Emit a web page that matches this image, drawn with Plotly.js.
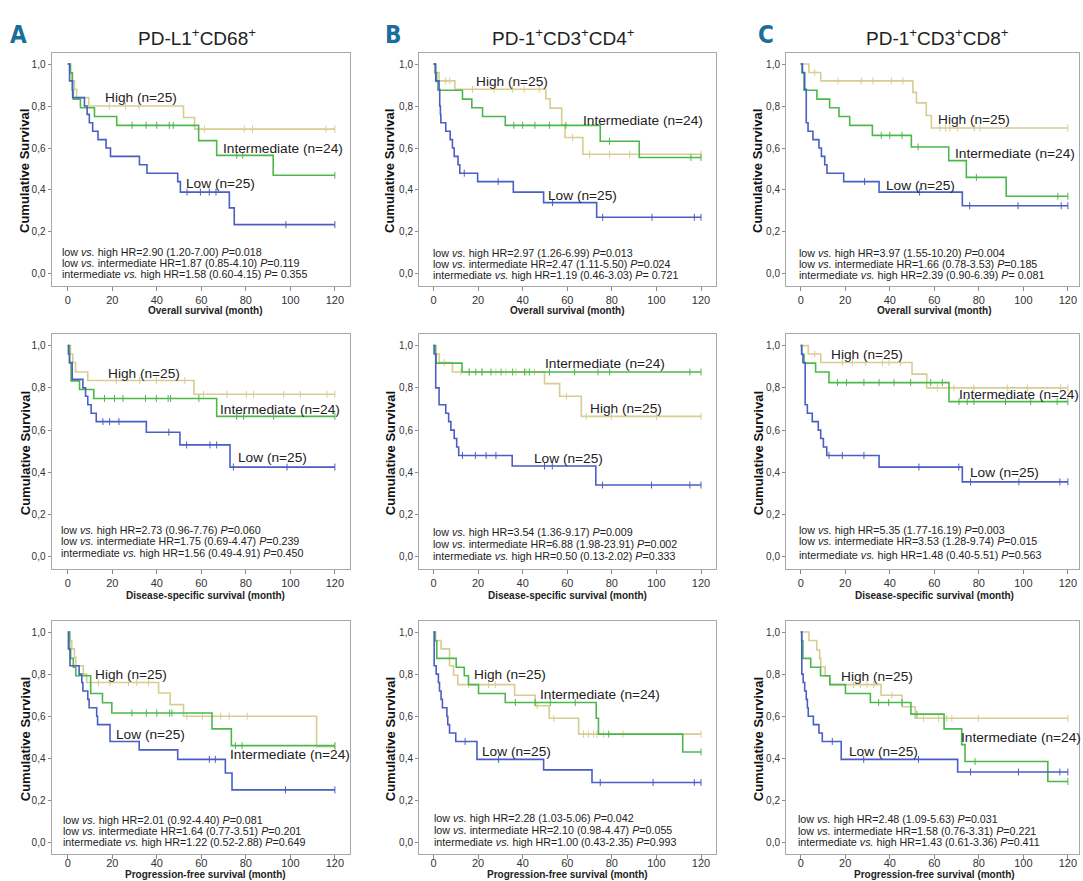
<!DOCTYPE html>
<html><head><meta charset="utf-8">
<script src="https://cdn.plot.ly/plotly-3.0.1.min.js"></script>
<style>html,body{margin:0;padding:0;background:#fff}#chart{width:1083px;height:881px}</style>
</head><body><div id="chart"></div>
<script>
// ---------- DATA ----------
const xTicks = [0, 20, 40, 60, 80, 100, 120];
const yTicks = [0, 0.2, 0.4, 0.6, 0.8, 1.0];
const yTickText = ['0,0', '0,2', '0,4', '0,6', '0,8', '1,0'];
const groupNames = ['High (n=25)', 'Intermediate (n=24)', 'Low (n=25)'];
const markerTitles = ['PD-L1<sup>+</sup>CD68<sup>+</sup>', 'PD-1<sup>+</sup>CD3<sup>+</sup>CD4<sup>+</sup>', 'PD-1<sup>+</sup>CD3<sup>+</sup>CD8<sup>+</sup>'];
const panelLetters = ['A', 'B', 'C'];
const survivalTypes = ['Overall survival (month)', 'Disease-specific survival (month)', 'Progression-free survival (month)'];

// Row 1: overall survival
const A1_high_t = [0, 1.2, 2.2, 3, 4, 9.4, 52, 57, 120];
const A1_high_s = [1, 0.96, 0.92, 0.88, 0.84, 0.80, 0.745, 0.69, 0.69];
const A1_high_c = [18.7, 26, 32, 61.4, 79.3, 83, 116, 120];
const A1_int_t = [0, 1.2, 2, 2.5, 5.7, 12, 22, 58.8, 66.9, 92.3, 120];
const A1_int_s = [1, 0.958, 0.875, 0.833, 0.792, 0.75, 0.708, 0.635, 0.565, 0.47, 0.47];
const A1_int_c = [28.9, 35.2, 40, 45.6, 47.4, 75.9, 78.6, 120];
const A1_low_t = [0, 0.8, 2.2, 7.5, 8.7, 9.7, 11.2, 13.6, 17.2, 19.2, 32.2, 35.6, 49.4, 50.6, 72.6, 74.8, 120];
const A1_low_s = [1, 0.92, 0.84, 0.80, 0.76, 0.72, 0.68, 0.64, 0.60, 0.56, 0.52, 0.48, 0.44, 0.39, 0.315, 0.235, 0.235];
const A1_low_c = [53.6, 59.6, 63.6, 66.6, 98, 120];

const B1_high_t = [0, 0.7, 2.5, 9.6, 50.4, 52.3, 57.5, 59, 67, 120];
const B1_high_s = [1, 0.96, 0.92, 0.88, 0.835, 0.79, 0.71, 0.65, 0.57, 0.57];
const B1_high_c = [5.5, 7.3, 17.5, 27.2, 35.5, 40.7, 47.4, 62.4, 70, 79, 88, 120];
const B1_int_t = [0, 0.7, 1.4, 2, 13, 17.2, 22, 32.2, 74.8, 92.3, 120];
const B1_int_s = [1, 0.958, 0.917, 0.875, 0.833, 0.792, 0.75, 0.708, 0.632, 0.555, 0.555];
const B1_int_c = [36, 40, 45.5, 52, 59.4, 78.9, 115.5, 120];
const B1_low_t = [0, 1, 2.5, 2.8, 3.1, 3.3, 5.5, 7.5, 8.5, 9.3, 11, 11.8, 19.8, 35.8, 49.4, 73.2, 120];
const B1_low_s = [1, 0.92, 0.88, 0.80, 0.76, 0.72, 0.68, 0.64, 0.60, 0.56, 0.52, 0.48, 0.44, 0.39, 0.34, 0.27, 0.27];
const B1_low_c = [13.8, 29, 53.4, 75.9, 98, 117, 120];

const C1_high_t = [0, 3.7, 9, 50.4, 52, 56.4, 58.7, 120];
const C1_high_s = [1, 0.96, 0.92, 0.865, 0.815, 0.755, 0.695, 0.695];
const C1_high_c = [6.3, 16.8, 27.2, 32.5, 40.7, 45.9, 62.5, 65, 67, 70.5, 78, 80.5, 120];
const C1_int_t = [0, 0.6, 1.5, 7.3, 13, 17.2, 22, 32.2, 49.7, 66.5, 74.4, 92.3, 120];
const C1_int_s = [1, 0.958, 0.875, 0.833, 0.792, 0.75, 0.708, 0.66, 0.605, 0.54, 0.46, 0.37, 0.37];
const C1_int_c = [36.2, 40, 45.5, 52.7, 78.9, 115.5, 120];
const C1_low_t = [0, 0.8, 1.8, 2.5, 3.3, 5.5, 8.2, 9.3, 10.8, 11.8, 19.3, 35.2, 72.6, 120];
const C1_low_s = [1, 0.96, 0.88, 0.72, 0.68, 0.64, 0.60, 0.56, 0.52, 0.48, 0.44, 0.39, 0.325, 0.325];
const C1_low_c = [28.7, 53.4, 75.9, 97.6, 117, 120];

// Row 2: disease-specific survival
const A2_high_t = [0, 1.2, 2.3, 3.5, 9, 56.7, 120];
const A2_high_s = [1, 0.96, 0.92, 0.875, 0.835, 0.77, 0.77];
const A2_high_c = [21.8, 32.3, 39.8, 52.6, 61, 71.5, 80.2, 83.5, 97, 104.5, 116.5, 120];
const A2_int_t = [0, 0.8, 1.5, 5.3, 11.7, 66.9, 120];
const A2_int_s = [1, 0.917, 0.833, 0.792, 0.75, 0.665, 0.665];
const A2_int_c = [16.5, 21, 24.8, 34.9, 39.8, 45.1, 46.2, 58.9, 75.9, 79, 92.5, 120];
const A2_low_t = [0, 0.3, 0.8, 2, 6.8, 8, 9, 10.5, 12.8, 35.3, 50.4, 72.9, 120];
const A2_low_s = [1, 0.96, 0.92, 0.84, 0.80, 0.76, 0.72, 0.68, 0.64, 0.59, 0.53, 0.425, 0.425];
const A2_low_c = [15.8, 18.8, 23, 45.4, 53.4, 63.9, 66.9, 74.4, 98.5, 120];

const B2_high_t = [0, 1, 2.6, 8.5, 49.8, 56.6, 66.3, 120];
const B2_high_s = [1, 0.96, 0.92, 0.875, 0.82, 0.76, 0.665, 0.665];
const B2_high_c = [4.8, 12.3, 16, 22, 28, 32.5, 37, 41.5, 45.3, 59.6, 68.5, 79.8, 100, 120];
const B2_int_t = [0, 0.9, 1.2, 12.8, 120];
const B2_int_s = [1, 0.958, 0.917, 0.875, 0.875];
const B2_int_c = [16, 19, 21.7, 25.8, 30.3, 35.5, 40.8, 43, 52, 63.3, 73.8, 79, 115, 120];
const B2_low_t = [0, 0.3, 1, 2.5, 5.5, 6.8, 7.8, 9.3, 10.4, 11.3, 35.3, 72.8, 120];
const B2_low_s = [1, 0.96, 0.80, 0.72, 0.68, 0.64, 0.60, 0.56, 0.52, 0.48, 0.43, 0.34, 0.34];
const B2_low_c = [13, 18.8, 23.6, 28, 49.8, 53.3, 75.8, 97.8, 115, 120];

const C2_high_t = [0, 3.4, 9, 50, 56.6, 120];
const C2_high_s = [1, 0.96, 0.92, 0.865, 0.80, 0.80];
const C2_high_c = [6.3, 18.7, 23.2, 29.2, 36.7, 39.7, 44.9, 61.4, 68.8, 77.8, 92.8, 101.8, 116.8, 120];
const C2_int_t = [0, 0.5, 1.5, 6.7, 12.7, 66.6, 120];
const C2_int_s = [1, 0.958, 0.917, 0.875, 0.825, 0.735, 0.735];
const C2_int_c = [16.5, 20.6, 28.4, 35.2, 41.9, 49.4, 58.4, 63.6, 71.1, 74.8, 77.8, 92, 103.3, 115.2, 120];
const C2_low_t = [0, 0.4, 1, 2, 3, 5.2, 7.9, 9, 10.2, 11.7, 35.2, 72.6, 120];
const C2_low_s = [1, 0.96, 0.92, 0.72, 0.68, 0.64, 0.60, 0.56, 0.52, 0.48, 0.425, 0.355, 0.355];
const C2_low_c = [12.7, 18.7, 28.4, 53.1, 71, 76.3, 98, 116.4, 120];

// Row 3: progression-free survival
const A3_high_t = [0, 1, 1.8, 3, 3.6, 7, 8.5, 40.8, 46, 52, 111.8, 120];
const A3_high_s = [1, 0.96, 0.92, 0.88, 0.84, 0.80, 0.76, 0.71, 0.655, 0.60, 0.455, 0.455];
const A3_high_c = [13.8, 19, 27.3, 31, 36.3, 53.5, 60.5, 68.7, 72.5, 80.6, 120];
const A3_int_t = [0, 0.8, 1.3, 2.5, 3.6, 10.3, 15.6, 19.8, 64.8, 73.5, 120];
const A3_int_s = [1, 0.917, 0.875, 0.833, 0.792, 0.708, 0.664, 0.615, 0.54, 0.46, 0.46];
const A3_int_c = [28.8, 35.3, 40, 45.8, 46.8, 75.3, 78.3, 120];
const A3_low_t = [0, 0.3, 1, 5.1, 6.3, 6.8, 9, 9.6, 13, 13.4, 19, 32.1, 49.4, 70.8, 73.8, 120];
const A3_low_s = [1, 0.92, 0.84, 0.80, 0.76, 0.72, 0.68, 0.64, 0.60, 0.56, 0.48, 0.44, 0.395, 0.33, 0.25, 0.25];
const A3_low_c = [63.6, 66.3, 97.8, 120];

const B3_high_t = [0, 1, 3.4, 7.2, 9, 10.9, 36.4, 45.6, 51.9, 65.1, 120];
const B3_high_s = [1, 0.96, 0.92, 0.84, 0.795, 0.75, 0.70, 0.65, 0.59, 0.515, 0.515];
const B3_high_c = [15.7, 24.7, 27.7, 46.5, 54, 67.3, 69.5, 71.8, 73.3, 76.3, 85, 120];
const B3_int_t = [0, 0.7, 1.5, 10.2, 13.8, 15.7, 20.2, 32.2, 73, 74, 111.8, 120];
const B3_int_s = [1, 0.958, 0.875, 0.833, 0.792, 0.75, 0.708, 0.665, 0.59, 0.515, 0.43, 0.43];
const B3_int_c = [36.7, 45.6, 52.4, 63.6, 78.6, 120];
const B3_low_t = [0, 0.3, 1.2, 2.2, 2.7, 3.4, 4, 6, 6.4, 7.2, 10, 19.5, 49.4, 71.1, 120];
const B3_low_s = [1, 0.84, 0.80, 0.76, 0.72, 0.68, 0.64, 0.60, 0.56, 0.52, 0.48, 0.395, 0.345, 0.285, 0.285];
const B3_low_c = [14.2, 29.2, 74.8, 98.5, 117, 120];

const C3_high_t = [0, 3.7, 7.2, 8.5, 9, 11, 13.1, 36.1, 45.5, 51.4, 120];
const C3_high_s = [1, 0.96, 0.915, 0.875, 0.835, 0.79, 0.75, 0.70, 0.645, 0.59, 0.59];
const C3_high_c = [23.8, 26.8, 29.8, 32.8, 41, 55.2, 61.9, 65.6, 67.9, 79.8, 120];
const C3_int_t = [0, 0.4, 1, 4.5, 8.9, 13.1, 20.1, 31.3, 49.5, 64.4, 72.3, 73.8, 111, 120];
const C3_int_s = [1, 0.958, 0.875, 0.833, 0.792, 0.75, 0.708, 0.665, 0.61, 0.54, 0.465, 0.385, 0.29, 0.29];
const C3_int_c = [35, 39.5, 45.5, 52.2, 78.3, 120];
const C3_low_t = [0, 0.5, 1.1, 1.8, 2.5, 3, 3.4, 5.7, 8.2, 9.7, 18.2, 70.5, 120];
const C3_low_s = [1, 0.80, 0.76, 0.72, 0.68, 0.64, 0.60, 0.56, 0.52, 0.48, 0.395, 0.335, 0.335];
const C3_low_c = [14.2, 28.3, 52.9, 76.3, 97.8, 116.4, 120];

// Hazard-ratio texts
const A1_stats = ['low <i>vs.</i> high HR=2.90 (1.20-7.00) <i>P</i>=0.018', 'low <i>vs.</i> intermediate HR=1.87 (0.85-4.10) <i>P</i>=0.119', 'intermediate <i>vs.</i> high HR=1.58 (0.60-4.15) <i>P</i>= 0.355'];
const B1_stats = ['low <i>vs.</i> high HR=2.97 (1.26-6.99) <i>P</i>=0.013', 'low <i>vs.</i> intermediate HR=2.47 (1.11-5.50) <i>P</i>=0.024', 'intermediate <i>vs.</i> high HR=1.19 (0.46-3.03) <i>P</i>= 0.721'];
const C1_stats = ['low <i>vs.</i> high HR=3.97 (1.55-10.20) <i>P</i>=0.004', 'low <i>vs.</i> intermediate HR=1.66 (0.78-3.53) <i>P</i>=0.185', 'intermediate <i>vs.</i> high HR=2.39 (0.90-6.39) <i>P</i>= 0.081'];
const A2_stats = ['low <i>vs.</i> high HR=2.73 (0.96-7.76) <i>P</i>=0.060', 'low <i>vs.</i> intermediate HR=1.75 (0.69-4.47) <i>P</i>=0.239', 'intermediate <i>vs.</i> high HR=1.56 (0.49-4.91) <i>P</i>=0.450'];
const B2_stats = ['low <i>vs.</i> high HR=3.54 (1.36-9.17) <i>P</i>=0.009', 'low <i>vs.</i> intermediate HR=6.88 (1.98-23.91) <i>P</i>=0.002', 'intermediate <i>vs.</i> high HR=0.50 (0.13-2.02) <i>P</i>=0.333'];
const C2_stats = ['low <i>vs.</i> high HR=5.35 (1.77-16.19) <i>P</i>=0.003', 'low <i>vs.</i> intermediate HR=3.53 (1.28-9.74) <i>P</i>=0.015', 'intermediate <i>vs.</i> high HR=1.48 (0.40-5.51) <i>P</i>=0.563'];
const A3_stats = ['low <i>vs.</i> high HR=2.01 (0.92-4.40) <i>P</i>=0.081', 'low <i>vs.</i> intermediate HR=1.64 (0.77-3.51) <i>P</i>=0.201', 'intermediate <i>vs.</i> high HR=1.22 (0.52-2.88) <i>P</i>=0.649'];
const B3_stats = ['low <i>vs.</i> high HR=2.28 (1.03-5.06) <i>P</i>=0.042', 'low <i>vs.</i> intermediate HR=2.10 (0.98-4.47) <i>P</i>=0.055', 'intermediate <i>vs.</i> high HR=1.00 (0.43-2.35) <i>P</i>=0.993'];
const C3_stats = ['low <i>vs.</i> high HR=2.48 (1.09-5.63) <i>P</i>=0.031', 'low <i>vs.</i> intermediate HR=1.58 (0.76-3.31) <i>P</i>=0.221', 'intermediate <i>vs.</i> high HR=1.43 (0.61-3.36) <i>P</i>=0.411'];

// ---------- LAYOUT CONFIG (positions / styles) ----------
const W = 1083, H = 881;
const colors = ['#d7cd92', '#4cb84c', '#4a5ec4'];
const colPix = [[51.5, 350], [419, 715.5], [786, 1079]];
const rowPix = [[52.5, 285.5], [334, 568.5], [620.5, 854]];
const rowTickStandoff = [0, 0, -5];
const colRange = [[-7.3, 126.8], [-6.5, 126.5], [-6.6, 125]];
const yRange = [-0.055, 1.055];
const FONT = '"Liberation Sans", Arial, sans-serif';

const panels = [
  {r:0,c:0, curves:[[A1_high_t,A1_high_s,A1_high_c],[A1_int_t,A1_int_s,A1_int_c],[A1_low_t,A1_low_s,A1_low_c]], stats:A1_stats, lab:[[15.7,0.84],[68.8,0.60],[52.4,0.43]], sx:-3.6, sy:[0.103,0.051,0.0]},
  {r:0,c:1, curves:[[B1_high_t,B1_high_s,B1_high_c],[B1_int_t,B1_int_s,B1_int_c],[B1_low_t,B1_low_s,B1_low_c]], stats:B1_stats, lab:[[18.3,0.916],[66.1,0.733],[50.4,0.373]], sx:-1.2, sy:[0.102,0.049,-0.004]},
  {r:0,c:2, curves:[[C1_high_t,C1_high_s,C1_high_c],[C1_int_t,C1_int_s,C1_int_c],[C1_low_t,C1_low_s,C1_low_c]], stats:C1_stats, lab:[[60.9,0.734],[68.4,0.574],[37.3,0.42]], sx:-1.6, sy:[0.102,0.049,-0.004]},
  {r:1,c:0, curves:[[A2_high_t,A2_high_s,A2_high_c],[A2_int_t,A2_int_s,A2_int_c],[A2_low_t,A2_low_s,A2_low_c]], stats:A2_stats, lab:[[17,0.869],[67.7,0.699],[75.5,0.471]], sx:-4, sy:[0.126,0.073,0.019]},
  {r:1,c:1, curves:[[B2_high_t,B2_high_s,B2_high_c],[B2_int_t,B2_int_s,B2_int_c],[B2_low_t,B2_low_s,B2_low_c]], stats:B2_stats, lab:[[69.3,0.70],[49.3,0.915],[44.2,0.467]], sx:-1.2, sy:[0.118,0.062,0.006]},
  {r:1,c:2, curves:[[C2_high_t,C2_high_s,C2_high_c],[C2_int_t,C2_int_s,C2_int_c],[C2_low_t,C2_low_s,C2_low_c]], stats:C2_stats, lab:[[12.7,0.96],[70,0.77],[75.3,0.40]], sx:-1.5, sy:[0.126,0.074,0.01]},
  {r:2,c:0, curves:[[A3_high_t,A3_high_s,A3_high_c],[A3_int_t,A3_int_s,A3_int_c],[A3_low_t,A3_low_s,A3_low_c]], stats:A3_stats, lab:[[11.2,0.80],[72,0.42],[20.8,0.513]], sx:-3, sy:[0.106,0.052,0.0]},
  {r:2,c:1, curves:[[B3_high_t,B3_high_s,B3_high_c],[B3_int_t,B3_int_s,B3_int_c],[B3_low_t,B3_low_s,B3_low_c]], stats:B3_stats, lab:[[17.2,0.80],[47.1,0.704],[20.9,0.43]], sx:-0.7, sy:[0.115,0.057,0.0]},
  {r:2,c:2, curves:[[C3_high_t,C3_high_s,C3_high_c],[C3_int_t,C3_int_s,C3_int_c],[C3_low_t,C3_low_s,C3_low_c]], stats:C3_stats, lab:[[17.1,0.79],[71.3,0.498],[20.9,0.434]], sx:-2.2, sy:[0.11,0.055,0.0]}
];

function stepAt(t, s, c) {
  let v = s[0];
  for (let i = 0; i < t.length; i++) { if (t[i] <= c) v = s[i]; }
  return v;
}

const traces = [];
const annotations = [];
const layout = {
  width: W, height: H, margin: {l:0, r:0, t:0, b:0},
  paper_bgcolor: '#fff', plot_bgcolor: '#fff', showlegend: false,
  font: {family: FONT, color: '#333'}
};

panels.forEach((p, i) => {
  const n = i + 1;
  const xa = 'x' + (n === 1 ? '' : n), ya = 'y' + (n === 1 ? '' : n);
  const xk = 'xaxis' + (n === 1 ? '' : n), yk = 'yaxis' + (n === 1 ? '' : n);
  const cp = colPix[p.c], rp = rowPix[p.r];
  layout[xk] = {
    domain: [cp[0] / W, cp[1] / W], range: colRange[p.c], anchor: ya,
    tickmode: 'array', tickvals: xTicks, ticks: 'outside', ticklen: 4, tickcolor: '#8a8a8a',
    ticklabelstandoff: rowTickStandoff[p.r],
    tickfont: {size: 11, color: '#333', family: FONT},
    showline: true, mirror: true, linecolor: '#a8a8a8', linewidth: 1,
    showgrid: false, zeroline: false, fixedrange: true
  };
  layout[yk] = {
    domain: [1 - rp[1] / H, 1 - rp[0] / H], range: yRange, anchor: xa,
    tickmode: 'array', tickvals: yTicks, ticktext: yTickText, ticks: 'outside', ticklen: 3, tickcolor: '#8a8a8a',
    tickfont: {size: 10, color: '#333', family: FONT},
    showline: true, mirror: true, linecolor: '#a8a8a8', linewidth: 1,
    showgrid: false, zeroline: false, fixedrange: true
  };
  p.curves.forEach((cv, g) => {
    const [t, s, c] = cv;
    traces.push({x: t, y: s, xaxis: xa, yaxis: ya, type: 'scatter', mode: 'lines',
      line: {shape: 'hv', color: colors[g], width: 1.6}, hoverinfo: 'skip'});
    traces.push({x: c, y: c.map(v => stepAt(t, s, v)), xaxis: xa, yaxis: ya, type: 'scatter', mode: 'markers',
      marker: {symbol: 'line-ns-open', size: 5, color: colors[g], line: {color: colors[g], width: 1}}, hoverinfo: 'skip'});
    annotations.push({xref: xa, yref: ya, x: p.lab[g][0], y: p.lab[g][1], text: groupNames[g], showarrow: false,
      xanchor: 'left', yanchor: 'middle', font: {size: 13.7, color: '#222', family: FONT}});
  });
  p.stats.forEach((st, k) => {
    annotations.push({xref: xa, yref: ya, x: p.sx, y: p.sy[k], text: st, showarrow: false,
      xanchor: 'left', yanchor: 'middle', font: {size: 10.7, color: '#222', family: FONT}});
  });
});

// axis titles (x) and (y)
const xTitleY = [311, 595, 874];
const xTitleX = [205, 567, 934];
const yTitleX = [25, 390, 758];
for (let r = 0; r < 3; r++) {
  for (let c = 0; c < 3; c++) {
    annotations.push({xref: 'paper', yref: 'paper', x: xTitleX[c] / W, y: 1 - xTitleY[r] / H,
      text: '<b>' + survivalTypes[r] + '</b>', showarrow: false, xanchor: 'center', yanchor: 'middle',
      font: {size: 10, color: '#222', family: FONT}});
    annotations.push({xref: 'paper', yref: 'paper', x: yTitleX[c] / W, y: 1 - ((rowPix[r][0] + rowPix[r][1]) / 2 + 2) / H,
      text: '<b>Cumulative Survival</b>', showarrow: false, textangle: -90, xanchor: 'center', yanchor: 'middle',
      font: {size: 13, color: '#111', family: FONT}});
  }
}
// headers
const letterX = [18, 393, 766];
const titleX = [197, 563, 937];
for (let c = 0; c < 3; c++) {
  annotations.push({xref: 'paper', yref: 'paper', x: letterX[c] / W, y: 1 - 35 / H, text: '<b>' + panelLetters[c] + '</b>',
    showarrow: false, xanchor: 'center', yanchor: 'middle',
    font: {size: 24, color: '#1b6d9c', family: '"Liberation Sans Narrow", "DejaVu Sans Condensed", Arial, sans-serif'}});
  annotations.push({xref: 'paper', yref: 'paper', x: titleX[c] / W, y: 1 - 37 / H, text: markerTitles[c],
    showarrow: false, xanchor: 'center', yanchor: 'middle', font: {size: 19, color: '#222', family: FONT}});
}
layout.annotations = annotations;

Plotly.newPlot('chart', traces, layout, {staticPlot: true, displayModeBar: false});
</script></body></html>
